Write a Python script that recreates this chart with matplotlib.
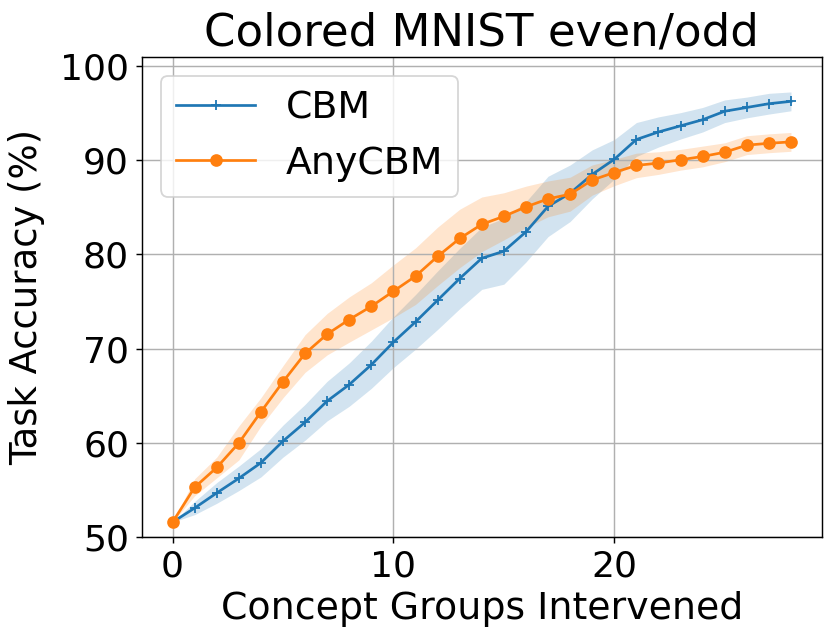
import numpy as np
import matplotlib
matplotlib.use("Agg")
import matplotlib.pyplot as plt

# values
groups = list(range(29))
cbm_mean = [51.6, 53.1, 54.7, 56.25, 57.9, 60.2, 62.2, 64.45, 66.2, 68.3,
            70.7, 72.85, 75.15, 77.45, 79.6, 80.35, 82.4, 85.1, 86.5, 88.5,
            90.1, 92.2, 93.0, 93.65, 94.3, 95.2, 95.6, 96.0, 96.25]
cbm_std = [0.0, 0.7, 1.1, 1.3, 1.5, 1.7, 1.9, 2.1, 2.3, 2.5,
           2.7, 2.9, 3.1, 3.2, 3.3, 3.5, 3.2, 3.2, 3.0, 2.6,
           2.1, 1.8, 1.6, 1.4, 1.3, 1.2, 1.1, 1.1, 1.0]
any_mean = [51.6, 55.3, 57.4, 60.0, 63.3, 66.5, 69.5, 71.55, 73.1, 74.5,
            76.1, 77.7, 79.8, 81.7, 83.2, 84.05, 85.05, 85.9, 86.4, 87.9,
            88.7, 89.45, 89.7, 90.05, 90.4, 90.85, 91.6, 91.8, 91.95]
any_std = [0.0, 0.9, 1.1, 1.8, 1.5, 1.7, 2.0, 2.2, 2.4, 2.5,
           2.8, 3.0, 3.1, 3.1, 2.9, 2.5, 2.2, 1.9, 1.8, 1.6,
           1.4, 1.3, 1.2, 1.1, 1.1, 1.0, 1.0, 1.0, 1.0]

plt.rcParams["font.size"] = 20

fig, ax = plt.subplots(figsize=(831 / 130, 643 / 130), dpi=130)
fig.subplots_adjust(left=0.1705, right=0.989, top=0.912, bottom=0.1645)

x = np.array(groups)
for mean, std, label, marker, color in [
        (cbm_mean, cbm_std, "CBM", "+", "tab:blue"),
        (any_mean, any_std, "AnyCBM", "o", "tab:orange")]:
    mean = np.array(mean)
    std = np.array(std)
    ax.plot(x, mean, marker=marker, color=color, label=label)
    ax.fill_between(x, mean - std, mean + std, color=color, alpha=0.2, linewidth=0)

ax.set_ylim(50, 101)
ax.set_yticks([50, 60, 70, 80, 90, 100])
ax.set_xticks([0, 10, 20])
ax.grid(True)
ax.set_xlabel("Concept Groups Intervened", fontsize=21)
ax.set_ylabel("Task Accuracy (%)", fontsize=20.5, labelpad=8)
ax.set_title("Colored MNIST even/odd", fontsize=25)
ax.legend(loc="upper left", fontsize=21, handlelength=2.1)

fig.savefig("out.png", dpi=130)
